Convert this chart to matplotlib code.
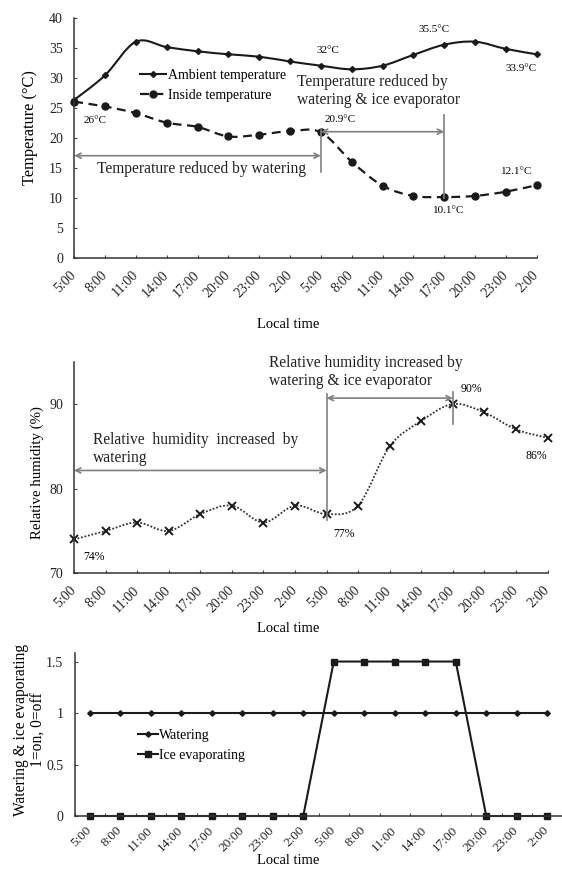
import numpy as np
import matplotlib
matplotlib.use("Agg")
import matplotlib.pyplot as plt
from matplotlib.path import Path
from matplotlib.patches import PathPatch
from matplotlib.lines import Line2D

plt.rcParams['font.family'] = ['Liberation Serif', 'DejaVu Serif']

# ---------------- data ----------------
times = ['5:00', '8:00', '11:00', '14:00', '17:00', '20:00', '23:00', '2:00',
         '5:00', '8:00', '11:00', '14:00', '17:00', '20:00', '23:00', '2:00']
ambient = [26.3, 30.4, 36.0, 35.1, 34.4, 33.9, 33.5, 32.7,
           32.0, 31.4, 32.0, 33.8, 35.5, 36.0, 34.8, 33.9]
inside = [26.0, 25.2, 24.1, 22.5, 21.8, 20.2, 20.5, 21.1,
          20.9, 16.0, 12.0, 10.3, 10.1, 10.3, 11.0, 12.1]
rh = [74, 75, 76, 75, 77, 78, 76, 78, 77, 78, 85, 88, 90, 89, 87, 86]
watering = [1, 1, 1, 1, 1, 1, 1, 1, 1, 1, 1, 1, 1, 1, 1, 1]
ice = [0, 0, 0, 0, 0, 0, 0, 0, 1.5, 1.5, 1.5, 1.5, 1.5, 0, 0, 0]

temp_labels = ['26°C', '32°C', '35.5°C', '33.9°C', '20.9°C', '10.1°C', '12.1°C']
rh_labels = ['74%', '77%', '90%', '86%']

x = np.arange(len(times))
GRAY = '#7f7f7f'
INK = '#1a1a1a'
TICK_FS = 10
NOTE_FS = 11.2
SMALL_FS = 8


def smooth_path(xs, ys):
    xs = np.asarray(xs, float)
    ys = np.asarray(ys, float)
    n = len(xs)
    verts = [(xs[0], ys[0])]
    codes = [Path.MOVETO]
    for i in range(n - 1):
        i0 = max(i - 1, 0)
        i3 = min(i + 2, n - 1)
        p0 = np.array([xs[i0], ys[i0]])
        p1 = np.array([xs[i], ys[i]])
        p2 = np.array([xs[i + 1], ys[i + 1]])
        p3 = np.array([xs[i3], ys[i3]])
        c1 = p1 + (p2 - p0) / 6.0
        c2 = p2 - (p3 - p1) / 6.0
        verts += [tuple(c1), tuple(c2), tuple(p2)]
        codes += [Path.CURVE4] * 3
    return Path(verts, codes)


def style_axes(ax, xpad=11):
    for s in ['top', 'right']:
        ax.spines[s].set_visible(False)
    for s in ['left', 'bottom']:
        ax.spines[s].set_color('#333333')
        ax.spines[s].set_linewidth(1.1)
    ax.tick_params(axis='both', direction='in', length=2.5, width=0.8,
                   color='#444444', labelsize=TICK_FS, labelcolor='#222222')
    ax.tick_params(axis='y', pad=8)
    ax.tick_params(axis='x', pad=xpad)


def rot_xlabels(ax):
    ax.set_xticks(x)
    ax.set_xticklabels(times, rotation=45, ha='right', va='center',
                       rotation_mode='anchor')


def arrow(ax, x0, x1, y):
    ax.annotate('', xy=(x1, y), xytext=(x0, y),
                arrowprops=dict(arrowstyle='<->', color=GRAY, lw=1.2,
                                shrinkA=0, shrinkB=0, mutation_scale=9))


W, H = 562, 876
fig = plt.figure(figsize=(W / 100, H / 100), dpi=100)

# ---------------- panel 1: temperature ----------------
ax1 = fig.add_axes([74.2 / W, 1 - 257.7 / H, 462.5 / W, 240 / H])
style_axes(ax1)
ax1.set_xlim(0, 15)
ax1.set_ylim(0, 40)
ax1.set_yticks(np.arange(0, 41, 5))
rot_xlabels(ax1)

ax1.add_patch(PathPatch(smooth_path(x, ambient), fill=False, color=INK,
                        lw=1.5, capstyle='round'))
ax1.plot(x, ambient, ls='none', marker='D', ms=3, color=INK, clip_on=False)
ax1.add_patch(PathPatch(smooth_path(x, inside), fill=False, color=INK,
                        lw=1.6, linestyle=(0, (4, 2.5))))
ax1.plot(x, inside, ls='none', marker='o', ms=5, color=INK, clip_on=False)

# annotation lines
arrow(ax1, 0, 8, 17.0)
ax1.plot([8, 8], [14.3, 21.3], color=GRAY, lw=1.2)
arrow(ax1, 8, 12, 21.0)
ax1.plot([12, 12], [10.0, 23.8], color=GRAY, lw=1.2)

ax1.text(4.13, 14.8, 'Temperature reduced by watering', fontsize=NOTE_FS,
         ha='center', va='center', color='#222222')
ax1.text(7.22, 27.8, 'Temperature reduced by\nwatering & ice evaporator',
         fontsize=NOTE_FS, ha='left', va='center', color='#222222', linespacing=1.15)

ax1.text(0.69, 22.8, temp_labels[0], fontsize=SMALL_FS, ha='center', va='center')
ax1.text(8.22, 34.45, temp_labels[1], fontsize=SMALL_FS, ha='center', va='center')
ax1.text(11.68, 38.07, temp_labels[2], fontsize=SMALL_FS, ha='center', va='center')
ax1.text(14.48, 31.6, temp_labels[3], fontsize=SMALL_FS, ha='center', va='center')
ax1.text(8.11, 22.95, temp_labels[4], fontsize=SMALL_FS, ha='left', va='center')
ax1.text(12.16, 7.8, temp_labels[5], fontsize=SMALL_FS, ha='center', va='center')
ax1.text(14.36, 14.45, temp_labels[6], fontsize=SMALL_FS, ha='center', va='center')

h_amb = Line2D([], [], color=INK, lw=1.5, marker='D', ms=3)
h_ins = Line2D([], [], color=INK, lw=1.6, ls=(0, (4, 2.5)), marker='o', ms=5)
ax1.legend([h_amb, h_ins], ['Ambient temperature', 'Inside temperature'],
           loc='center left', bbox_to_anchor=((140 - 74.2) / 462.5, (257.7 - 85.5) / 240),
           frameon=False, fontsize=10, handlelength=1.9, handletextpad=0.1,
           borderpad=0, borderaxespad=0, labelspacing=0.5, numpoints=1)

ax1.set_ylabel('Temperature (°C)', fontsize=11.8)
ax1.yaxis.set_label_coords(30 / W, 1 - 128 / H, transform=fig.transFigure)
ax1.yaxis.label.set_va('center')
ax1.set_xlabel('Local time', fontsize=10.5)
ax1.xaxis.set_label_coords(288 / W, 1 - 325 / H, transform=fig.transFigure)
ax1.xaxis.label.set_va('center')

# ---------------- panel 2: relative humidity ----------------
ax2 = fig.add_axes([74 / W, 1 - 573.3 / H, 473.6 / W, 211.6 / H])
style_axes(ax2)
ax2.set_xlim(0, 15)
ax2.set_ylim(70, 95)
ax2.set_yticks([70, 80, 90])
rot_xlabels(ax2)

ax2.add_patch(PathPatch(smooth_path(x, rh), fill=False, color='#333333',
                        lw=1.3, linestyle=(0, (1, 1))))
ax2.plot(x, rh, ls='none', marker='x', ms=5.5, mew=1.4, color=INK, clip_on=False)

arrow(ax2, 0, 8, 82.15)
ax2.plot([8, 8], [76.3, 91.2], color=GRAY, lw=1.2)
arrow(ax2, 8, 12, 90.7)
ax2.plot([12, 12], [87.6, 91.4], color=GRAY, lw=1.2)

ax2.text(6.19, 93.8, 'Relative humidity increased by\nwatering & ice evaporator',
         fontsize=NOTE_FS, ha='left', va='center', color='#222222', linespacing=1.15)
ax2.text(0.61, 84.7, 'Relative  humidity  increased  by\nwatering',
         fontsize=NOTE_FS, ha='left', va='center', color='#222222', linespacing=1.15)

ax2.text(0.63, 71.9, rh_labels[0], fontsize=SMALL_FS + 0.5, ha='center', va='center')
ax2.text(8.56, 74.6, rh_labels[1], fontsize=SMALL_FS + 0.5, ha='center', va='center')
ax2.text(12.23, 91.8, rh_labels[2], fontsize=SMALL_FS + 0.5, ha='left', va='center')
ax2.text(14.63, 83.9, rh_labels[3], fontsize=SMALL_FS + 0.5, ha='center', va='center')

ax2.set_ylabel('Relative humidity (%)', fontsize=10.7)
ax2.yaxis.set_label_coords(37.5 / W, 1 - 472.5 / H, transform=fig.transFigure)
ax2.yaxis.label.set_va('center')
ax2.set_xlabel('Local time', fontsize=10.5)
ax2.xaxis.set_label_coords(288 / W, 1 - 629 / H, transform=fig.transFigure)
ax2.xaxis.label.set_va('center')

# ---------------- panel 3: watering / ice evaporating ----------------
ax3 = fig.add_axes([74.5 / W, 1 - 816 / H, 488 / W, 162.7 / H])
style_axes(ax3, xpad=9)
ax3.set_xlim(-0.5, 15.5)
ax3.set_ylim(0, 1.58)
ax3.set_yticks([0, 0.5, 1, 1.5])
ax3.set_yticklabels(['0', '0.5', '1', '1.5'])
ax3.set_xticks(x)
ax3.set_xticklabels(times, rotation=45, ha='right', va='center', rotation_mode='anchor')
ax3.tick_params(axis='x', length=0, labelsize=9.5)
ax3.set_xticks(np.arange(-0.5, 16, 1), minor=True)
ax3.tick_params(axis='x', which='minor', direction='in', length=2.5, width=0.8, color='#444444')

ax3.plot(x, watering, color=INK, lw=1.5, marker='D', ms=2.8, clip_on=False,
         label='Watering')
ax3.plot(x, ice, color=INK, lw=1.5, marker='s', ms=5, clip_on=False,
         label='Ice evaporating')
ax3.legend(loc='center left', bbox_to_anchor=((137.5 - 74.5) / 488, (816 - 745.5) / 162.7),
           frameon=False, fontsize=10, handlelength=1.5, handletextpad=0.05,
           borderpad=0, borderaxespad=0, labelspacing=0.55, numpoints=1)

ax3.set_ylabel('Watering & ice evaporating\n1=on, 0=off', fontsize=11.2, linespacing=1.12)
ax3.yaxis.set_label_coords(29.5 / W, 1 - 730 / H, transform=fig.transFigure)
ax3.yaxis.label.set_va('center')
ax3.set_xlabel('Local time', fontsize=10.5)
ax3.xaxis.set_label_coords(288 / W, 1 - 861 / H, transform=fig.transFigure)
ax3.xaxis.label.set_va('center')

fig.savefig('out.png', dpi=100, facecolor='white')
